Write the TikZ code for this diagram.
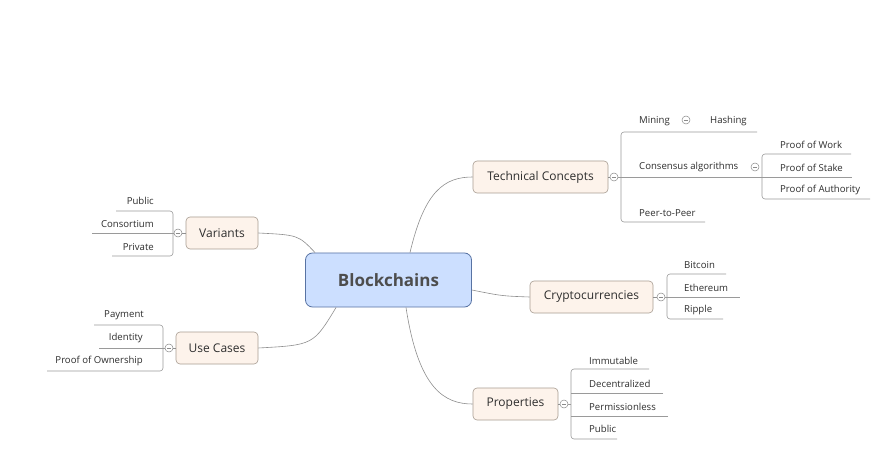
\documentclass[tikz,border=0pt]{standalone}
\usepackage{fontspec}
\setmainfont{Open Sans}
\usetikzlibrary{calc}
\definecolor{lnk}{HTML}{8F8F8F}
\definecolor{brk}{HTML}{9A9A9A}
\definecolor{txt}{HTML}{2E2E2E}
\definecolor{cfill}{HTML}{CCDFFF}
\definecolor{cbord}{HTML}{5873A3}
\definecolor{tfill}{HTML}{FDF3EB}
\definecolor{tbord}{HTML}{A89D92}
\definecolor{circg}{HTML}{8A8A8A}
\tikzset{
  centre/.style={draw=cbord, fill=cfill, rounded corners=7pt, line width=0.8pt,
    minimum width=166pt, minimum height=54pt, inner sep=0pt,
    font=\fontsize{17}{19}\selectfont\bfseries, text=txt!85!white},
  topic/.style={draw=tbord, fill=tfill, rounded corners=4pt, line width=0.6pt,
    minimum height=32pt, inner sep=0pt, font=\fontsize{12}{14}\selectfont, text=txt},
  leafr/.style={inner sep=0pt, anchor=west, font=\fontsize{9.6}{11}\selectfont, text=txt},
  leafl/.style={inner sep=0pt, anchor=east, font=\fontsize{9.6}{11}\selectfont, text=txt},
  conn/.style={draw=lnk, line width=0.6pt},
  brack/.style={draw=brk, line width=0.6pt, rounded corners=3pt},
  fold/.style={circle, draw=circg, fill=white, minimum size=8pt, inner sep=0pt, line width=0.5pt,
    path picture={\draw[circg, line width=0.5pt] ([xshift=2pt]path picture bounding box.west) -- ([xshift=-2pt]path picture bounding box.east);}}
}
\begin{document}
\begin{tikzpicture}[x=1pt,y=-1pt]
\useasboundingbox[fill=white] (0,0) rectangle (889,465);

% centre and main topics
\node[centre] (bc) at (388.5,280) {Blockchains};
\node[topic, minimum width=135pt] (tc) at (540.5,177) {Technical Concepts};
\node[topic, minimum width=123pt] (cc) at (591.5,297) {Cryptocurrencies};
\node[topic, minimum width=85pt] (pr) at (515.5,404) {Properties};
\node[topic, minimum width=72pt] (va) at (222,233) {Variants};
\node[topic, minimum width=82pt] (uc) at (217,348) {Use Cases};

% connectors from centre
\draw[conn] ($(bc.north)+(21.5,0)$) .. controls ($(bc.north)+(36,-62)$) and ($(tc.west)+(-28,0)$) .. (tc.west);
\draw[conn] ($(bc.east)+(0,10)$) .. controls ($(bc.east)+(30,16)$) .. (cc.west);
\draw[conn] ($(bc.south)+(17.5,0)$) .. controls ($(bc.south)+(30,82)$) and ($(pr.west)+(-28,0)$) .. (pr.west);
\draw[conn] (va.east) .. controls ($(va.east)+(40,2)$) .. ($(bc.north west)+(10,0)$);
\draw[conn] (uc.east) .. controls ($(uc.east)+(55,-3)$) .. ($(bc.south west)+(31,0)$);

% Technical Concepts branch
\node[fold] (ftc) at (614,177) {};
\draw[conn] (tc.east) -- (ftc.west);
\draw[brack] (ftc.east) -- (852,177);
\draw[brack] (757,132) -- (621,132) -- (621,222) -- (705,222);
\node[leafr] (mining) at (639,121) {Mining};
\node[fold] (fmin) at (686,120) {};
\node[leafr] (hashing) at (710,121) {Hashing};
\node[leafr] (consensus) at (639,167) {Consensus algorithms};
\node[fold] (fcons) at (755,167) {};
\node[leafr] (p2p) at (639,213) {Peer-to-Peer};
\draw[brack] (851,154) -- (762,154) -- (762,199) -- (870,199);
\node[leafr] (pow) at (780,145) {Proof of Work};
\node[leafr] (pos) at (780,168) {Proof of Stake};
\node[leafr] (poa) at (780,190) {Proof of Authority};

% Cryptocurrencies branch
\node[fold] (fcc) at (661,297) {};
\draw[conn] (cc.east) -- (fcc.west);
\draw[brack] (fcc.east) -- (740,297);
\draw[brack] (726,274) -- (667,274) -- (667,319) -- (723,319);
\node[leafr] (btc) at (684,265) {Bitcoin};
\node[leafr] (eth) at (684,288) {Ethereum};
\node[leafr] (xrp) at (684,310) {Ripple};

% Properties branch
\node[fold] (fpr) at (564,404) {};
\draw[conn] (pr.east) -- (fpr.west);
\draw[brack] (fpr.east) -- (571,404);
\draw[brack] (649,369) -- (571,369) -- (571,439) -- (617,439);
\draw[brack] (663,393) -- (571,393);
\draw[brack] (668,416) -- (571,416);
\node[leafr] (imm) at (589,361) {Immutable};
\node[leafr] (dec) at (589,384) {Decentralized};
\node[leafr] (perm) at (589,407) {Permissionless};
\node[leafr] (pub) at (589,429) {Public};

% Variants branch
\node[fold] (fva) at (178,233) {};
\draw[conn] (va.west) -- (fva.east);
\draw[brack] (fva.west) -- (92,233);
\draw[brack] (116,211) -- (173,211) -- (173,256) -- (112,256);
\node[leafl] (vpub) at (154,201) {Public};
\node[leafl] (vcon) at (154,224) {Consortium};
\node[leafl] (vpri) at (154,247) {Private};

% Use Cases branch
\node[fold] (fuc) at (169,348) {};
\draw[conn] (uc.west) -- (fuc.east);
\draw[brack] (fuc.west) -- (99,348);
\draw[brack] (94,325) -- (163,325) -- (163,371) -- (47,371);
\node[leafl] (pay) at (144,315) {Payment};
\node[leafl] (idn) at (143,338) {Identity};
\node[leafl] (own) at (143,361) {Proof of Ownership};
\end{tikzpicture}
\end{document}
